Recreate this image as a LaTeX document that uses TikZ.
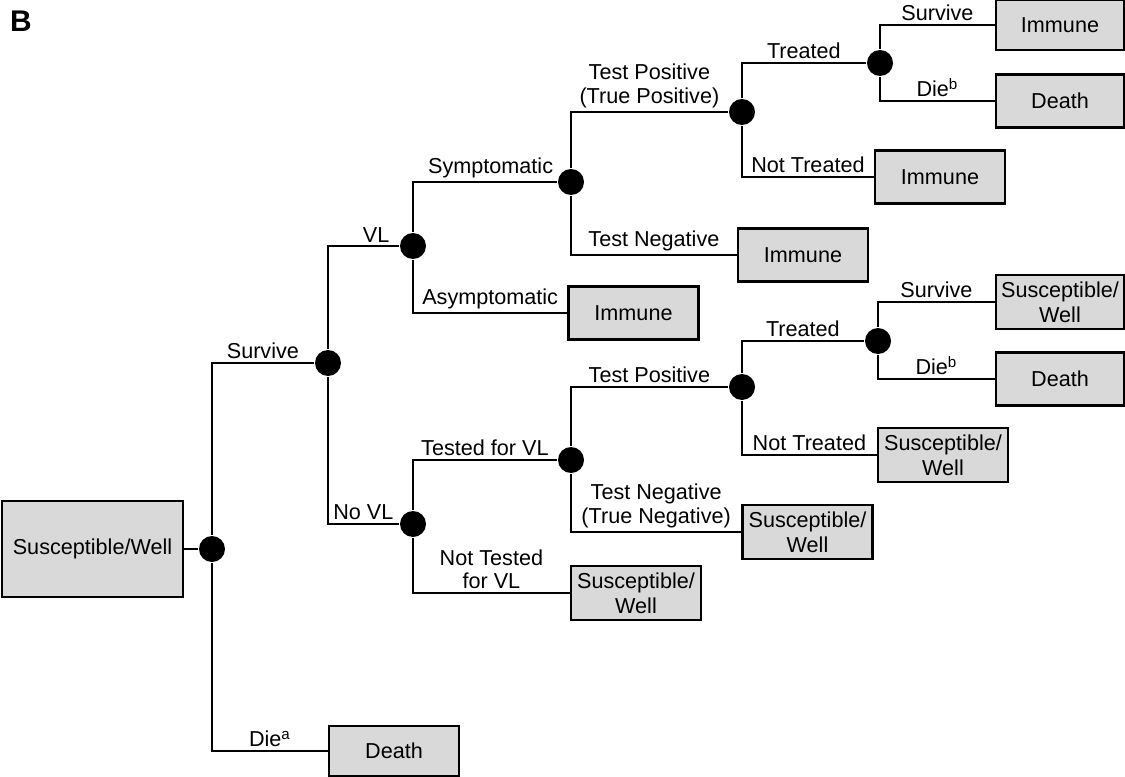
\documentclass[tikz,border=0pt]{standalone}
\usepackage{fontspec}
\setmainfont{Liberation Sans}
\usepackage{tikz}

\definecolor{boxgray}{gray}{0.85}

\begin{document}
\begin{tikzpicture}[x=0.02cm,y=-0.02cm,line width=1.4pt,
	dot/.style={shape=circle,fill=black,minimum size=0.52cm,inner sep=0pt},
	bx/.style={shape=rectangle,draw=black,fill=boxgray,minimum width=2.6cm,minimum height=1.06cm,
		inner sep=1pt,align=center,font=\fontsize{12.3}{14}\selectfont},
	lbl/.style={above,pos=0.75,inner sep=1.5pt,align=center,font=\fontsize{12.3}{13.5}\selectfont}]
	\useasboundingbox (0,0) rectangle (1125,777);

	\node[font=\bfseries\fontsize{17}{19}\selectfont] (fig) at (21, 21) {B};

	% start state and chance nodes
	\node[bx,minimum width=3.62cm,minimum height=1.92cm] (sw) at (92.5, 549) {Susceptible/Well};
	\node[dot] (c0) at (212, 549) {};
	\node[dot] (c1) at (328, 363) {};
	\node[dot] (c2) at (413, 246) {};
	\node[dot] (c3) at (571, 182) {};
	\node[dot] (c4) at (742, 112) {};
	\node[dot] (c5) at (880, 63)  {};
	\node[dot] (c6) at (413, 524) {};
	\node[dot] (c7) at (571, 460) {};
	\node[dot] (c8) at (742, 387) {};
	\node[dot] (c9) at (878, 341) {};

	% outcomes
	\node[bx,minimum height=1.0cm] (l1) at (394, 751)    {Death};
	\node[bx] (l2)  at (633.5, 313)  {Immune};
	\node[bx] (l3)  at (803, 255)    {Immune};
	\node[bx] (l4)  at (940, 177)    {Immune};
	\node[bx,minimum width=2.56cm,minimum height=1.0cm] (l5) at (1060, 25) {Immune};
	\node[bx,minimum width=2.56cm] (l6)  at (1060, 101) {Death};
	\node[bx,minimum height=1.08cm] (l7)  at (807.5, 532) {Susceptible/\\Well};
	\node[bx,minimum height=1.08cm] (l8)  at (636, 593)   {Susceptible/\\Well};
	\node[bx,minimum height=1.08cm] (l9)  at (943, 455)   {Susceptible/\\Well};
	\node[bx,minimum width=2.56cm,minimum height=1.08cm] (l10) at (1060, 302) {Susceptible/\\Well};
	\node[bx,minimum width=2.56cm] (l11) at (1060, 379) {Death};

	\draw (sw) -- (c0);
	\draw (c0) |- node[lbl]{Survive} (c1);
	\draw (c0) |- node[lbl]{Die\textsuperscript{a}} (l1);
	\draw (c1) |- node[lbl,pos=0.84]{VL} (c2);
	\draw (c1) |- node[lbl]{No VL} (c6);
	\draw (c2) |- node[lbl,pos=0.77]{Symptomatic} (c3);
	\draw (c2) |- node[lbl]{Asymptomatic} (l2);
	\draw (c3) |- node[lbl]{Test Positive\\(True Positive)} (c4);
	\draw (c3) |- node[lbl]{Test Negative} (l3);
	\draw (c4) |- node[lbl]{Treated} (c5);
	\draw (c4) |- node[lbl]{Not Treated} (l4);
	\draw (c5) |- node[lbl]{Survive} (l5);
	\draw (c5) |- node[lbl]{Die\textsuperscript{b}} (l6);
	\draw (c6) |- node[lbl]{Tested for VL} (c7);
	\draw (c6) |- node[lbl]{Not Tested\\for VL} (l8);
	\draw (c7) |- node[lbl]{Test Positive} (c8);
	\draw (c7) |- node[lbl]{Test Negative\\(True Negative)} (l7);
	\draw (c8) |- node[lbl]{Treated} (c9);
	\draw (c8) |- node[lbl]{Not Treated} (l9);
	\draw (c9) |- node[lbl]{Survive} (l10);
	\draw (c9) |- node[lbl]{Die\textsuperscript{b}} (l11);

\end{tikzpicture}
\end{document}
